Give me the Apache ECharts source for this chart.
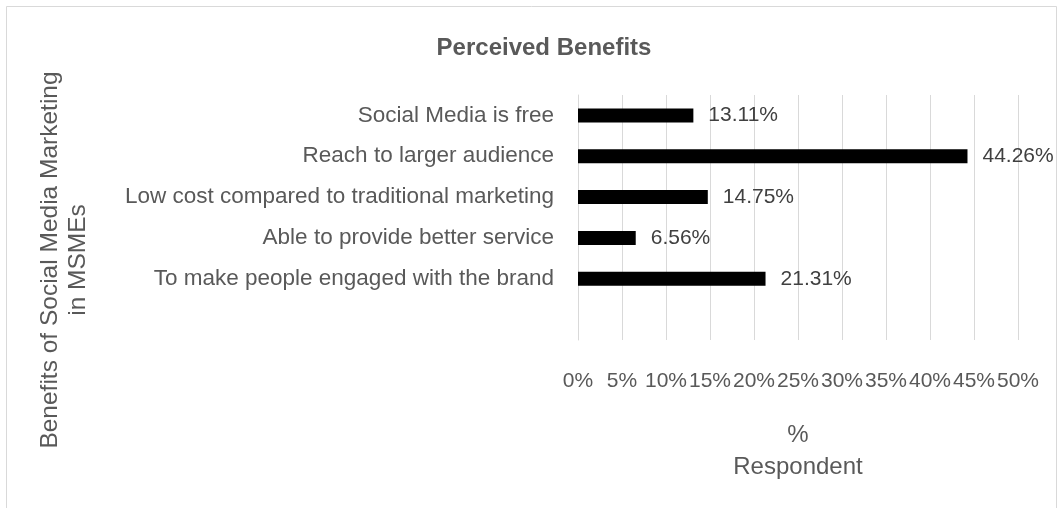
<!DOCTYPE html>
<html><head><meta charset="utf-8">
<script src="https://cdn.jsdelivr.net/npm/echarts@6/dist/echarts.min.js"></script>
<style>html,body{margin:0;padding:0;background:#fff}#c{width:1061px;height:508px}</style>
</head><body><div id="c"></div>
<script>
const categories = ["Social Media is free", "Reach to larger audience", "Low cost compared to traditional marketing", "Able to provide better service", "To make people engaged with the brand", ""];
const values = [13.11, 44.26, 14.75, 6.56, 21.31, null];
const xTicks = [0, 50, 5];
const FONT = "Liberation Sans";
const chart = echarts.init(document.getElementById('c'), null, {renderer: 'canvas'});
chart.setOption({
  animation: false,
  backgroundColor: '#fff',
  textStyle: {fontFamily: FONT},
  title: {text: 'Perceived Benefits', left: 539, textAlign: 'center', top: 31,
    textStyle: {fontFamily: FONT, fontWeight: 'bold', fontSize: 24, color: '#595959'}},
  graphic: [
    {type: 'rect', shape: {x: 6.5, y: 6.5, width: 1050, height: 520}, style: {fill: 'none', stroke: '#d9d9d9', lineWidth: 1}, silent: true},
    {type: 'text', x: 64, y: 260, rotation: Math.PI / 2,
      style: {text: 'Benefits of Social Media Marketing\nin MSMEs', fontFamily: FONT, fontSize: 24.5, fill: '#595959', align: 'center', verticalAlign: 'middle', lineHeight: 28}}
  ],
  grid: {left: 578, right: 43, top: 95, bottom: 168, containLabel: false},
  xAxis: {
    type: 'value', min: xTicks[0], max: xTicks[1], interval: xTicks[2],
    axisLine: {show: false}, axisTick: {show: false},
    splitLine: {show: true, lineStyle: {color: '#d9d9d9', width: 1}},
    axisLabel: {formatter: '{value}%', fontSize: 21, color: '#595959', margin: 31, hideOverlap: false},
    name: '%\nRespondent', nameLocation: 'middle', nameGap: 79,
    nameTextStyle: {fontSize: 24, color: '#595959', lineHeight: 32, fontFamily: FONT}
  },
  yAxis: {
    type: 'category', data: categories, inverse: true,
    axisLine: {show: true, lineStyle: {color: '#d9d9d9', width: 1}},
    axisTick: {show: false},
    axisLabel: {fontSize: 22.5, color: '#595959', margin: 24}
  },
  series: [{
    type: 'bar', data: values, barWidth: 14,
    itemStyle: {color: '#000'},
    label: {show: true, position: 'right', distance: 15, fontSize: 21, color: '#404040',
      formatter: p => p.value == null ? '' : p.value.toFixed(2) + '%'}
  }]
});
</script></body></html>
